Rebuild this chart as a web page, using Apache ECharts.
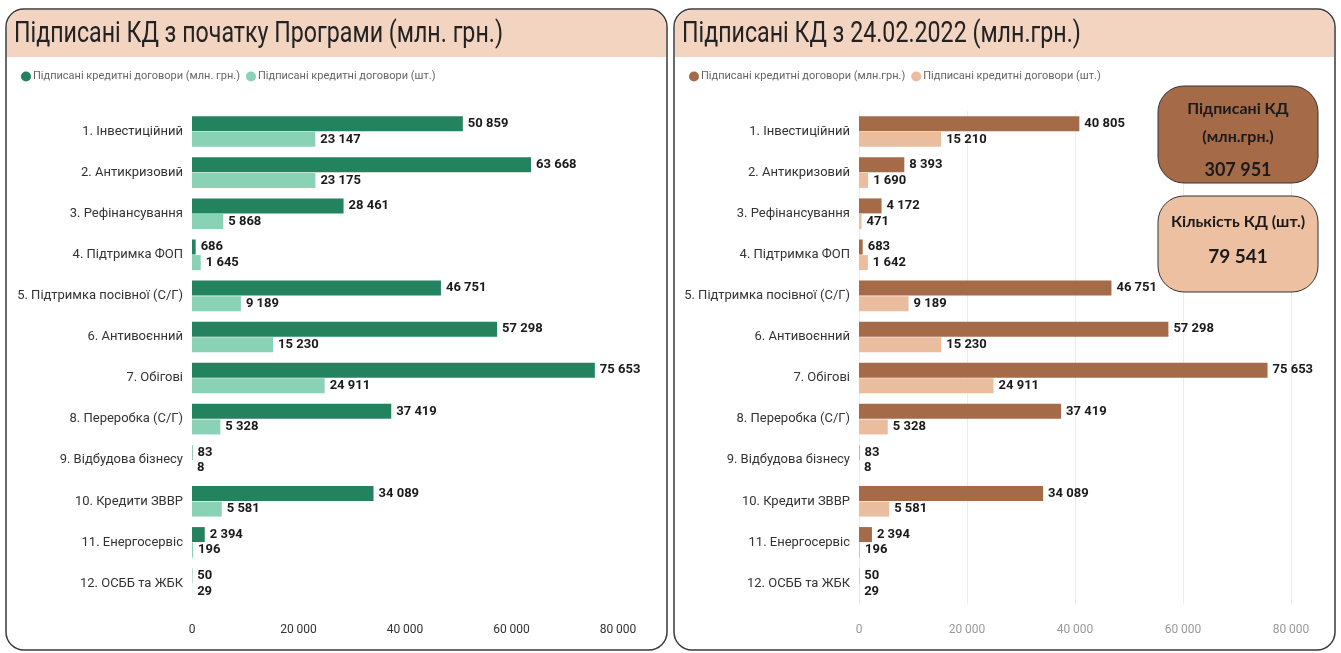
<!DOCTYPE html>
<html>
<head>
<meta charset="utf-8">
<script src="https://cdn.jsdelivr.net/npm/echarts@6/dist/echarts.min.js"></script>
<style>
html,body{margin:0;padding:0;background:#fff;}
#chart{width:1341px;height:653px;}
</style>
</head>
<body>
<div id="chart"></div>
<script>
const categories = ["1. Інвестиційний","2. Антикризовий","3. Рефінансування","4. Підтримка ФОП","5. Підтримка посівної (С/Г)","6. Антивоєнний","7. Обігові","8. Переробка (С/Г)","9. Відбудова бізнесу","10. Кредити ЗВВР","11. Енергосервіс","12. ОСББ та ЖБК"];
const leftAmount = [50859,63668,28461,686,46751,57298,75653,37419,83,34089,2394,50];
const leftCount  = [23147,23175,5868,1645,9189,15230,24911,5328,8,5581,196,29];
const rightAmount = [40805,8393,4172,683,46751,57298,75653,37419,83,34089,2394,50];
const rightCount  = [15210,1690,471,1642,9189,15230,24911,5328,8,5581,196,29];
const axisTicks = [0,20000,40000,60000,80000];
const leftTitle = "Підписані КД з початку Програми (млн. грн.)";
const rightTitle = "Підписані КД з 24.02.2022 (млн.грн.)";
const leftLegend = ["Підписані кредитні договори (млн. грн.)","Підписані кредитні договори (шт.)"];
const rightLegend = ["Підписані кредитні договори (млн.грн.)","Підписані кредитні договори (шт.)\u200B"];
const kpiAmountLabel = ["Підписані КД","(млн.грн.)"];
const kpiAmountValue = "307 951";
const kpiCountLabel = "Кількість КД (шт.)";
const kpiCountValue = "79 541";

const COND = 'Roboto,"Noto Sans",sans-serif';
const fmt = v => String(v).replace(/\B(?=(\d{3})+(?!\d))/g, ' ');
const colors = { lDark:'#24835f', lLight:'#89d2b5', rDark:'#a56b48', rLight:'#ebbd9f' };

const chart = echarts.init(document.getElementById('chart'));

function panel(x, title) {
  return [
    { type:'rect', shape:{x:x, y:9, width:661, height:641, r:18}, style:{fill:'#fff', stroke:'#3a3a3a', lineWidth:1.5}, z:-10 },
    { type:'rect', shape:{x:x+1, y:10, width:659, height:47, r:[17,17,0,0]}, style:{fill:'#f3d4c0'}, z:-9 },
    { type:'text', x:x+8, y:35, scaleX:0.8, originX:0, style:{text:title, font:'normal 29px '+COND, fill:'#222', textVerticalAlign:'middle'}, z:5 }
  ];
}
function kpi(y, h, fill, lines) {
  const els = [{ type:'rect', shape:{x:1158, y:y, width:160, height:h, r:26}, style:{fill:fill, stroke:'#333', lineWidth:1}, z:10 }];
  lines.forEach(l => els.push({ type:'text', x:1238, y:l.y, style:{text:l.t, font:'bold '+l.s+'px Lato,"Open Sans",sans-serif', fill:'#1a1a1a', textAlign:'center', textVerticalAlign:'middle'}, z:11 }));
  return els;
}

const graphic = [].concat(
  panel(6, leftTitle),
  panel(674, rightTitle),
  kpi(86, 97, '#a56b48', [{t:kpiAmountLabel[0], y:109, s:16},{t:kpiAmountLabel[1], y:137, s:16},{t:kpiAmountValue, y:170, s:18}]),
  kpi(196, 96, '#edc0a1', [{t:kpiCountLabel, y:222, s:16},{t:kpiCountValue, y:257, s:19}])
);

function xAxis(gi, color, split) {
  return { type:'value', gridIndex:gi, min:0, max:80000, interval:20000,
    axisLine:{show:false}, axisTick:{show:false},
    splitLine:{show:split, lineStyle:{color:'#ececec'}},
    axisLabel:{color:color, fontSize:12, fontFamily:COND, margin:20, formatter:v => fmt(v)} };
}
function yAxis(gi) {
  return { type:'category', gridIndex:gi, data:categories, inverse:true,
    axisLine:{show:false}, axisTick:{show:false},
    axisLabel:{color:'#333', fontSize:13, fontFamily:COND, margin:9} };
}
function bar(name, data, gi, color) {
  return { type:'bar', name:name, data:data, xAxisIndex:gi, yAxisIndex:gi, barWidth:15, barGap:'4%',
    itemStyle:{color:color},
    label:{show:true, position:'right', distance:5, color:'#1a1a1a', fontSize:13, fontWeight:'bold', fontFamily:COND, formatter:p => fmt(p.value)} };
}
const legendText = {color:'#666', fontSize:11, fontFamily:COND, padding:[0,0,0,-3]};

chart.setOption({
  animation:false,
  graphic:graphic,
  legend:[
    { left:16, top:66, itemWidth:10, itemHeight:10, itemGap:6, icon:'circle', textStyle:legendText,
      data:[{name:leftLegend[0], itemStyle:{color:colors.lDark}}, {name:leftLegend[1], itemStyle:{color:colors.lLight}}] },
    { left:684, top:66, itemWidth:10, itemHeight:10, itemGap:6, icon:'circle', textStyle:legendText,
      data:[{name:rightLegend[0], itemStyle:{color:colors.rDark}}, {name:rightLegend[1], itemStyle:{color:colors.rLight}}] }
  ],
  grid:[
    { left:192, width:426, top:111, height:493, containLabel:false },
    { left:859, width:432, top:111, height:493, containLabel:false }
  ],
  xAxis:[ xAxis(0,'#333',false), xAxis(1,'#999',true) ],
  yAxis:[ yAxis(0), yAxis(1) ],
  series:[
    bar(leftLegend[0], leftAmount, 0, colors.lDark),
    bar(leftLegend[1], leftCount, 0, colors.lLight),
    bar(rightLegend[0], rightAmount, 1, colors.rDark),
    bar(rightLegend[1], rightCount, 1, colors.rLight)
  ]
});
</script>
</body>
</html>
